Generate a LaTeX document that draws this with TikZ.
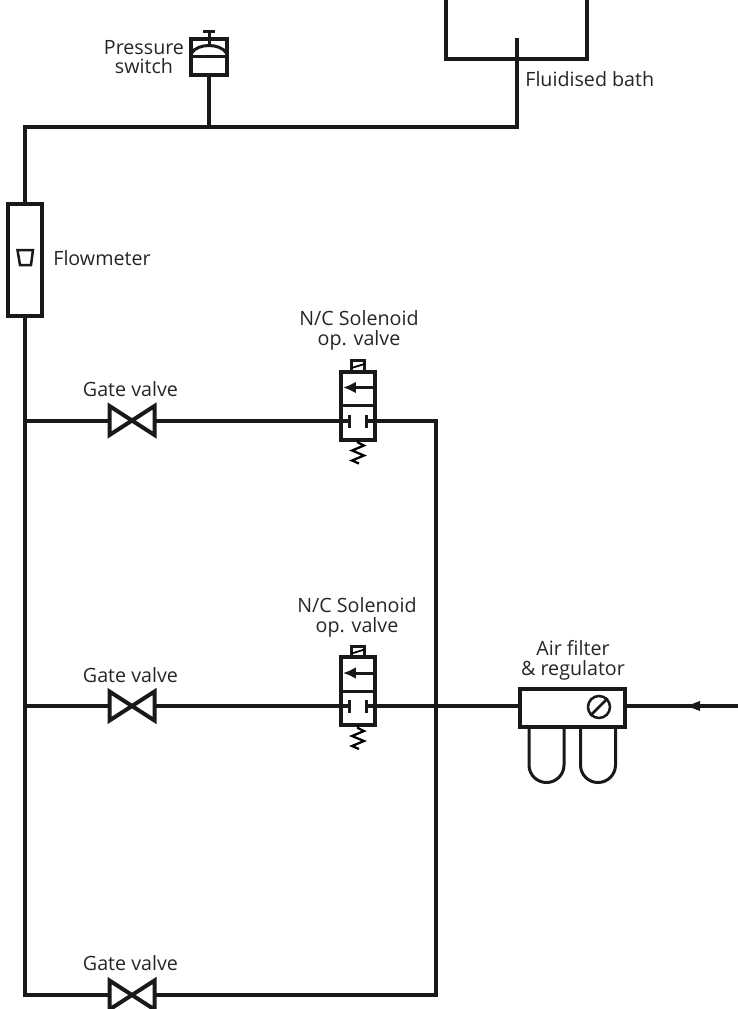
\documentclass[tikz,border=0pt]{standalone}
\usepackage{fontspec}
\setmainfont{Open Sans}
\usetikzlibrary{calc, arrows.meta}
\tikzset{
    pipe/.style={line width=0.08cm,draw=black!90},
    thinpipe/.style={line width=0.06cm,draw=black!90},
    label/.style={inner sep=0pt,align=center,font=\fontsize{11.2}{11.3}\selectfont,text=black!85},
    gate/.pic={
        \draw[pipe,fill=white,miter limit=4] (-22.5,-14.5)--(22.5,14.5)--(22.5,-14.5)--(-22.5,14.5)--cycle;
        \coordinate (-w) at (-24,0);
        \coordinate (-e) at (24,0);
    },
    solenoid/.pic={
        \draw[thinpipe] (-6.5,-34)--(-6.5,-45)--(6.5,-45)--(6.5,-34);
        \draw[line width=0.035cm] (-6.5,-37.5)--(6.5,-41.5);
        \draw[pipe] (-17,-34) rectangle (17,34);
        \draw[thinpipe] (-17,0)--(17,0);
        \draw[thinpipe,-{Latex[length=0.26cm,width=0.24cm]}] (17,-18)--(-15,-18);
        \draw[thinpipe] (-8.5,9)--(-8.5,22);
        \draw[thinpipe] (8.5,9)--(8.5,22);
        \draw[line width=0.045cm] (0,34)--(0,37)--(6,40)--(-6,45)--(6,50)--(-6,55)--(1,58);
        \coordinate (-w) at (-8.5,15);
        \coordinate (-e) at (8.5,15);
    },
    bowl/.pic={
        \draw[thinpipe] (-17.5,0)--(-17.5,38) arc (180:0:17.5)--(17.5,0);
    },
}
\begin{document}
\begin{tikzpicture}[x=0.02cm,y=-0.02cm]
    \useasboundingbox (0,0) rectangle (738,1009);
    % bath
    \draw[pipe] (445.5,0)--(445.5,59)--(587,59)--(587,0);
    \coordinate (bath) at (517,38);
    \node[label,anchor=west] (bathtext) at (525,79) {Fluidised bath};
    % pressure switch
    \node[draw=black!90,line width=0.08cm,fill=white,inner sep=0pt,minimum width=0.72cm,minimum height=0.72cm] (switch) at (209,57) {};
    \draw[thinpipe] (192,56)--(226,56);
    \draw[thinpipe] (191.5,53) .. controls (198,43) and (220,43) .. (226.5,53);
    \draw[thinpipe] (209,31)--(209,45);
    \draw[thinpipe] (203,31)--(215,31);
    \node[label] (switchtext) at (144,57) {Pressure\\switch};
    % flowmeter
    \node[draw=black!90,line width=0.08cm,fill=white,inner sep=0pt,minimum width=0.7cm,minimum height=2.25cm] (flowmeter) at (25,260) {};
    \draw[line width=0.05cm,draw=black!90] (17.5,250)--(33,250)--(31,265)--(20,265)--cycle;
    \node[label,anchor=west] (flowtext) at (53,258) {Flowmeter};
    % corners of the pipework
    \coordinate (topleft) at (25,127);
    \coordinate (topright) at (517,127);
    \coordinate (switchfoot) at (209,127);
    \coordinate (teeA) at (25,420.5);
    \coordinate (teeB) at (25,706);
    \coordinate (botleft) at (25,995);
    \coordinate (botright) at (436,995);
    \coordinate (cornerA) at (436,420.5);
    \coordinate (inlet) at (738,706);
    % valves
    \pic (gateA) at (132,420.5) {gate};
    \pic (gateB) at (132,706) {gate};
    \pic (gateC) at (132,995) {gate};
    \pic (solA) at (358,405.5) {solenoid};
    \pic (solB) at (358,691) {solenoid};
    \foreach \y/\n in {389/A,675/B,963/C}{
        \node[label] (gatetext\n) at (130.5,\y) {Gate valve};
    }
    \node[label] (soltextA) at (359,330) {N/C Solenoid\\op. valve};
    \node[label] (soltextB) at (357,617) {N/C Solenoid\\op. valve};
    % air filter
    \pic at (546.5,727) {bowl};
    \pic at (598,727) {bowl};
    \node[draw=black!90,line width=0.08cm,fill=white,inner sep=0pt,minimum width=2.12cm,minimum height=0.76cm] (filter) at (572.5,707.5) {};
    \node[draw=black!90,line width=0.05cm,circle,inner sep=0pt,minimum size=0.44cm] (gauge) at (599,707) {};
    \draw[line width=0.05cm,draw=black!90] (gauge.south west)--(gauge.north east);
    \node[label] (filtertext) at (573,660) {Air filter\\\& regulator};
    % pipework
    \draw[pipe] (switch)--(switchfoot);
    \draw[pipe] (bath)--(topright)--(topleft)--(flowmeter);
    \draw[pipe] (flowmeter)--(botleft)--(gateC-w);
    \draw[pipe] (gateC-e)--(botright)--(cornerA)--(solA-e);
    \draw[pipe] (teeA)--(gateA-w);
    \draw[pipe] (gateA-e)--(solA-w);
    \draw[pipe] (teeB)--(gateB-w);
    \draw[pipe] (gateB-e)--(solB-w);
    \draw[pipe] (solB-e)--(solB-e -| filter.west);
    \draw[pipe] (inlet -| filter.east)--(inlet);
    \fill[black!90] (687,706)--(700,701)--(700,711)--cycle;
\end{tikzpicture}
\end{document}
